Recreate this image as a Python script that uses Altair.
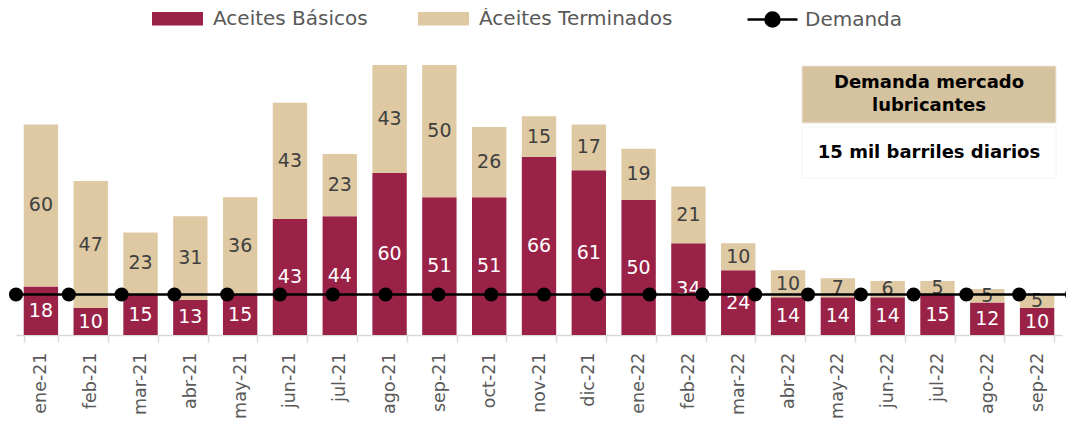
import altair as alt
import pandas as pd

meses = ["ene-21", "feb-21", "mar-21", "abr-21", "may-21", "jun-21", "jul-21",
         "ago-21", "sep-21", "oct-21", "nov-21", "dic-21", "ene-22", "feb-22",
         "mar-22", "abr-22", "may-22", "jun-22", "jul-22", "ago-22", "sep-22"]
basicos = [18, 10, 15, 13, 15, 43, 44, 60, 51, 51, 66, 61, 50, 34, 24, 14, 14, 14, 15, 12, 10]
terminados = [60, 47, 23, 31, 36, 43, 23, 43, 50, 26, 15, 17, 19, 21, 10, 10, 7, 6, 5, 5, 5]
demanda = [15, 15, 15, 15, 15, 15, 15, 15, 15, 15, 15, 15, 15, 15, 15, 15, 15, 15, 15, 15, 15]

S_BAS = "Aceites Básicos"
S_TER = "Áceites Terminados"
S_DEM = "Demanda"
YMAX = 100

FONT = "DejaVu Sans"
MAROON = "#9B2247"
BEIGE = "#DEC9A3"

rows = []
for m, b, t in zip(meses, basicos, terminados):
    rows.append({"mes": m, "serie": S_BAS, "valor": b, "orden": 1,
                 "pos": b / 2})
    top = min(b + t, YMAX)
    rows.append({"mes": m, "serie": S_TER, "valor": t, "orden": 2,
                 "pos": (b + top) / 2})
bars_df = pd.DataFrame(rows)
dem_df = pd.DataFrame({"mes": meses, "valor": demanda, "serie": S_DEM})

yscale = alt.Scale(domain=[0, YMAX], clamp=True, nice=False)
hidden_y = alt.Axis(domain=False, labels=False, ticks=False, grid=False, title=None)
xband = alt.X("mes:N", sort=meses, title=None,
              scale=alt.Scale(paddingInner=0.31, paddingOuter=0.155, range=[0, 1046]),
              axis=alt.Axis(labelAngle=270, labelAlign="right", labelBaseline="middle",
                            labelFontSize=17.5, labelColor="#595959", labelFont=FONT,
                            labelPadding=10, tickSize=7, tickColor="#D9D9D9",
                            domainColor="#D9D9D9", domainWidth=1.5, tickWidth=1.5,
                            tickBand="extent", grid=False))

rect_path = "M-1,-0.26L1,-0.26L1,0.26L-1,0.26Z"
bars = alt.Chart(bars_df).mark_bar().encode(
    x=xband,
    y=alt.Y("valor:Q", stack="zero", scale=yscale, axis=hidden_y),
    order=alt.Order("orden:Q"),
    color=alt.Color("serie:N", scale=alt.Scale(domain=[S_BAS, S_TER], range=[MAROON, BEIGE]),
                    legend=alt.Legend(title=None, orient="none", direction="horizontal",
                                      legendX=136, legendY=-72, symbolType=rect_path,
                                      symbolSize=2600, symbolStrokeWidth=0,
                                      labelFontSize=20, labelFont=FONT, labelColor="#595959",
                                      labelOffset=10, columnPadding=50, labelLimit=400)),
)

txt_bas = alt.Chart(bars_df[bars_df.serie == S_BAS]).mark_text(
    color="white", fontSize=19, font=FONT, baseline="middle").encode(
    x=alt.X("mes:N", sort=meses), y=alt.Y("pos:Q", scale=yscale, axis=hidden_y), text="valor:Q")
txt_ter = alt.Chart(bars_df[bars_df.serie == S_TER]).mark_text(
    color="#404040", fontSize=19, font=FONT, baseline="middle").encode(
    x=alt.X("mes:N", sort=meses), y=alt.Y("pos:Q", scale=yscale, axis=hidden_y), text="valor:Q")

bar_layer = alt.layer(bars, txt_bas, txt_ter)

line_path = "M-1,0L1,0M-0.28,0A0.28,0.28 0 1 1 0.28,0A0.28,0.28 0 1 1 -0.28,0Z"
xpoint = alt.X("mes:N", sort=meses, axis=None,
               scale=alt.Scale(type="point", padding=0, range=[0, 1056]))
dcolor = alt.Color("serie:N", scale=alt.Scale(domain=[S_DEM], range=["black"]),
                   legend=alt.Legend(title=None, orient="none", legendX=730, legendY=-72,
                                     symbolType=line_path, symbolSize=2500,
                                     symbolStrokeWidth=2.5, symbolFillColor="black",
                                     symbolStrokeColor="black",
                                     labelFontSize=20, labelFont=FONT, labelColor="#595959",
                                     labelOffset=6, labelLimit=400))
line = alt.Chart(dem_df).mark_line(strokeWidth=2.5).encode(
    x=xpoint, y=alt.Y("valor:Q", scale=yscale, axis=hidden_y), color=dcolor)
pts = alt.Chart(dem_df).mark_circle(size=200, opacity=1).encode(
    x=xpoint, y=alt.Y("valor:Q", scale=yscale, axis=hidden_y), color=dcolor)
line_layer = alt.layer(line, pts)

box_df = pd.DataFrame({"t": [""]})
box1 = alt.Chart(box_df).mark_rect(fill="#D5C29E", stroke="#EFE8DA", strokeWidth=1).encode(
    x=alt.value(786), x2=alt.value(1040), y=alt.value(1), y2=alt.value(58))
box2 = alt.Chart(box_df).mark_rect(fill="white", stroke="#F4F4F4", strokeWidth=1).encode(
    x=alt.value(786), x2=alt.value(1040), y=alt.value(62), y2=alt.value(113))
t1 = alt.Chart(box_df).mark_text(text="Demanda mercado", fontSize=18, fontWeight="bold",
                                 font=FONT, color="black").encode(
    x=alt.value(913), y=alt.value(18))
t2 = alt.Chart(box_df).mark_text(text="lubricantes", fontSize=18, fontWeight="bold",
                                 font=FONT, color="black").encode(
    x=alt.value(913), y=alt.value(41))
t3 = alt.Chart(box_df).mark_text(text="15 mil barriles diarios", fontSize=18, fontWeight="bold",
                                 font=FONT, color="black").encode(
    x=alt.value(913), y=alt.value(88))
annot = alt.layer(box1, box2, t1, t2, t3)

chart = alt.layer(bar_layer, line_layer, annot).resolve_scale(
    x="independent", color="independent"
).properties(
    width=1050, height=270,
    background="white",
    autosize=alt.AutoSizeParams(type="none"),
    padding={"left": 8, "top": 57, "right": 0, "bottom": 83},
).configure_view(strokeWidth=0, stroke="transparent")

chart.save("out.html", embed_options={"renderer": "svg", "actions": False})
